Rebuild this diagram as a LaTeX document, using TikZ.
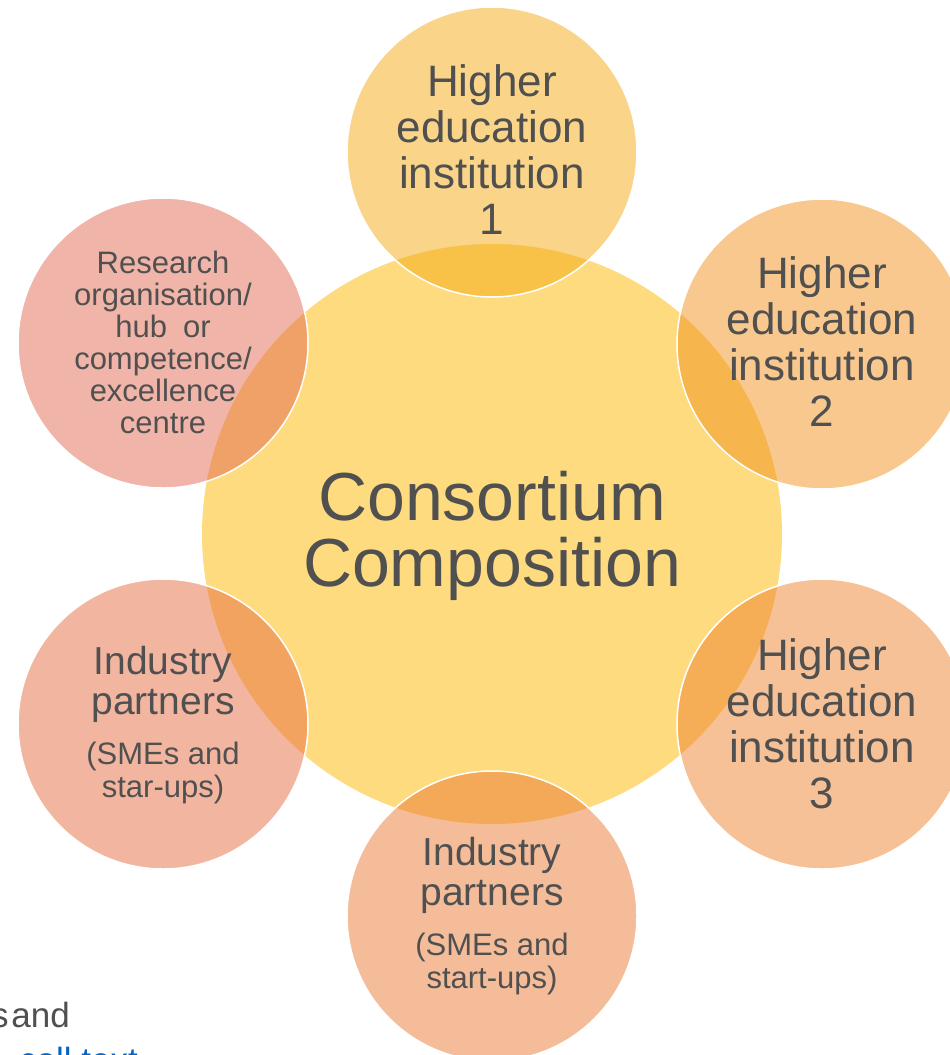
\documentclass[tikz,border=0pt]{standalone}
\usepackage{fontspec}
\setmainfont{Liberation Sans}
\definecolor{txt}{RGB}{80,80,80}
\definecolor{hubfill}{RGB}{254,219,127}
\definecolor{linkblue}{RGB}{5,99,193}
\definecolor{heA}{RGB}{243,169,19}
\definecolor{heB}{RGB}{241,145,29}
\definecolor{heC}{RGB}{237,131,45}
\definecolor{indA}{RGB}{233,121,49}
\definecolor{indB}{RGB}{229,109,65}
\definecolor{resA}{RGB}{225,105,81}
\newcommand{\wsp}{\hspace{8.6pt}}
\begin{document}
\begin{tikzpicture}[x=1pt,y=-1pt,
  hub/.style={circle, fill=hubfill, minimum size=580pt, inner sep=0pt},
  sat/.style={circle, fill=#1, fill opacity=0.5, draw=white, line width=1.5pt,
              minimum size=290pt, inner sep=0pt},
  lbl/.style={text=txt, align=flush center, text width=260pt, inner sep=0pt},
  big/.style={lbl, font=\fontsize{44}{46}\selectfont},
]
\useasboundingbox (0,0) rectangle (950,1055);
\clip (0,0) rectangle (950,1055);

% central circle
\node[hub] (hub) at (492,534) {};

% satellites around the hub
\node[sat=heA]  (he1) at (492,152) {};
\node[sat=heB]  (he2) at (822,344) {};
\node[sat=heC]  (he3) at (822,724) {};
\node[sat=indA] (ind1) at (492,916) {};
\node[sat=indB] (ind2) at (163,724) {};
\node[sat=resA] (res) at (163,343) {};

% labels (canvas yshift: positive moves up)
\node[lbl, text width=440pt, font=\fontsize{68}{66}\selectfont] (hubtxt) at ([yshift=-2pt]hub.center) {Consortium\\Composition};
\node[big] (he1txt) at ([yshift=2pt]he1.center) {Higher\\education\\institution\\1};
\node[big] (he2txt) at ([yshift=2pt]he2.center) {Higher\\education\\institution\\2};
\node[big] (he3txt) at (he3.center) {Higher\\education\\institution\\3};
\node[lbl, font=\fontsize{31}{32}\selectfont] (restxt) at ([yshift=1pt]res.center)
  {Research\\organisation/\\hub\hspace{16pt}or\\competence/\\excellence\\centre};
\node[lbl] (ind1txt) at (ind1.center)
  {{\fontsize{39}{40}\selectfont Industry\\partners\par}\vspace{17pt}%
   {\fontsize{31}{33}\selectfont (SMEs\wsp and\\start-ups)\par}};
\node[lbl] (ind2txt) at ([yshift=-1pt]ind2.center)
  {{\fontsize{39}{40}\selectfont Industry\\partners\par}\vspace{17pt}%
   {\fontsize{31}{33}\selectfont (SMEs\wsp and\\star-ups)\par}};

% running text at the lower left edge
\node[anchor=base east, text=txt, inner sep=0pt, font=\fontsize{35}{38}\selectfont] (frag1) at (70,1027) {s\hspace{-7pt} and};
\node[anchor=base west, text=linkblue, inner sep=0pt, font=\fontsize{35}{38}\selectfont] (frag2) at (19,1072) {call text};
\end{tikzpicture}
\end{document}
